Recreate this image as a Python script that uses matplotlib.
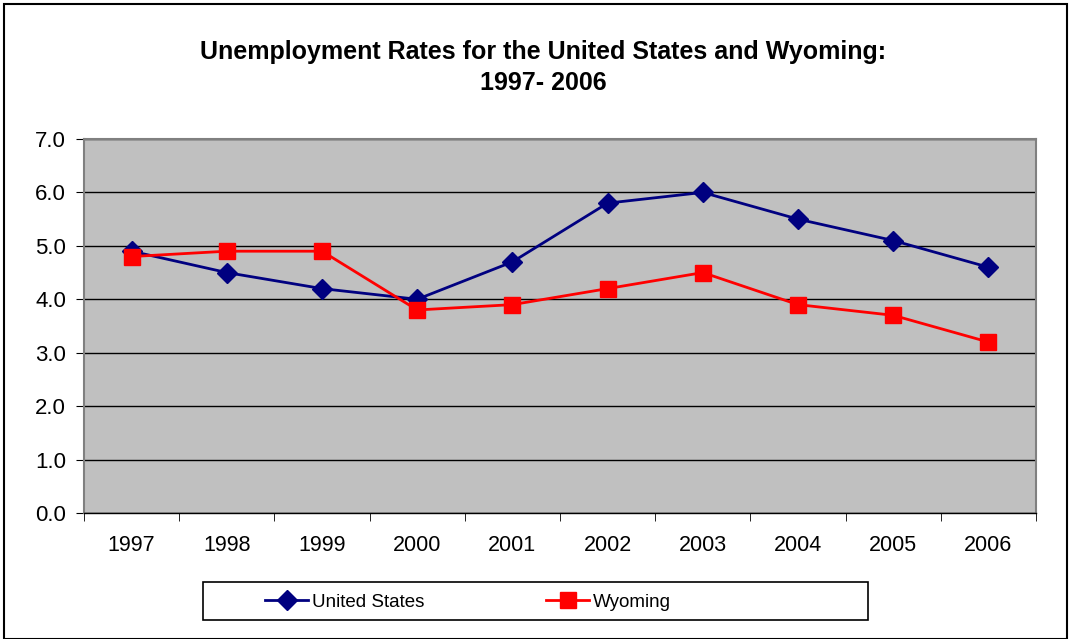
import matplotlib.pyplot as plt
from matplotlib.patches import Rectangle
from matplotlib.ticker import FixedLocator

years = ['1997', '1998', '1999', '2000', '2001', '2002', '2003', '2004', '2005', '2006']
us_rate = [4.9, 4.5, 4.2, 4.0, 4.7, 5.8, 6.0, 5.5, 5.1, 4.6]
wy_rate = [4.8, 4.9, 4.9, 3.8, 3.9, 4.2, 4.5, 3.9, 3.7, 3.2]

plt.rcParams['font.family'] = ['Liberation Sans', 'DejaVu Sans']

fig = plt.figure(figsize=(10.69, 6.39), dpi=100)
ax = fig.add_axes([84 / 1069, 1 - 513 / 639, (1036 - 84) / 1069, (513 - 139) / 639])
ax.set_facecolor('#C0C0C0')

x = list(range(len(years)))
ax.plot(x, us_rate, color='#000080', marker='D', markersize=10, linewidth=2, label='United States')
ax.plot(x, wy_rate, color='#FF0000', marker='s', markersize=11.5, linewidth=2, label='Wyoming')

ax.set_xlim(-0.5, len(years) - 0.5)
ax.set_ylim(0, 7)
ax.set_yticks([i for i in range(8)])
ax.set_yticklabels(['%.1f' % i for i in range(8)], fontsize=16)
ax.set_xticks(x)
ax.set_xticklabels(years, fontsize=15.5)
ax.tick_params(axis='x', which='major', length=0, pad=16)
ax.xaxis.set_minor_locator(FixedLocator([i - 0.5 for i in range(len(years) + 1)]))
ax.tick_params(axis='x', which='minor', length=6, direction='out', color='black')
ax.tick_params(axis='y', length=6, direction='out', color='black', pad=7)
ax.grid(axis='y', color='black', linewidth=1)
ax.set_axisbelow(True)

for side in ['top', 'right', 'left']:
    ax.spines[side].set_color('#808080')
    ax.spines[side].set_linewidth(1.5)
ax.spines['bottom'].set_color('black')
ax.spines['bottom'].set_linewidth(1)

fig.text(543 / 1069, 1 - 52 / 639, 'Unemployment Rates for the United States and Wyoming:',
         ha='center', va='center', fontsize=18, fontweight='bold')
fig.text(543 / 1069, 1 - 83 / 639, '1997- 2006',
         ha='center', va='center', fontsize=18, fontweight='bold')

# legend box drawn separately, entries sit left of centre like in Excel
fig.patches.append(Rectangle((203 / 1069, 1 - 620 / 639), 665 / 1069, 38 / 639,
                             transform=fig.transFigure, fill=False, edgecolor='black', linewidth=1.2))
leg = fig.legend(loc='center left', bbox_to_anchor=(265 / 1069, 1 - 602 / 639),
                 ncol=2, frameon=False, columnspacing=6.5, fontsize=13.5,
                 handlelength=2.3, handletextpad=0.2, borderpad=0, borderaxespad=0)

fig.patches.append(Rectangle((4 / 1069, 0), 1063 / 1069, 1 - 4 / 639, transform=fig.transFigure,
                             fill=False, edgecolor='black', linewidth=1.5))

fig.savefig('out.png', dpi=100)
